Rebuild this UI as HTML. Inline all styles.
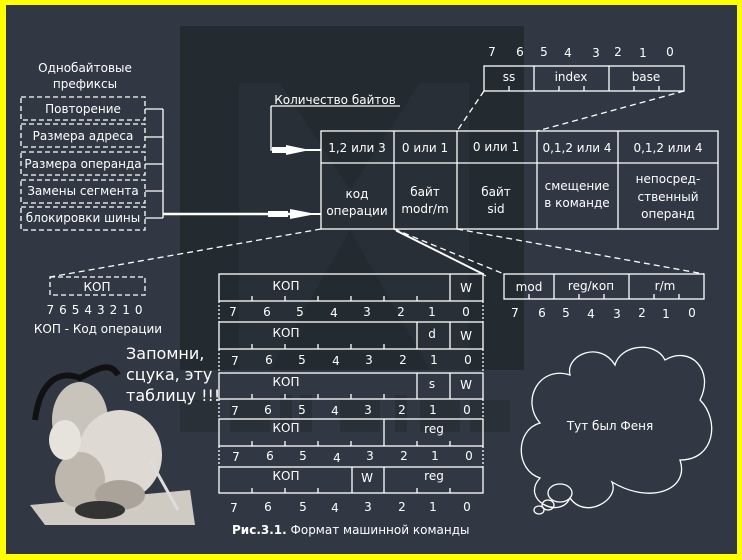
<!DOCTYPE html>
<html><head><meta charset="utf-8"><style>
html,body{margin:0;padding:0;background:#ffff00;}
svg{display:block;}
text{font-family:"DejaVu Sans","Liberation Sans",sans-serif;fill:#fff;}
</style></head><body>
<svg width="742" height="560" viewBox="0 0 742 560" xmlns="http://www.w3.org/2000/svg">
<rect x="0" y="0" width="742" height="560" fill="#ffff00"/>
<rect x="6" y="5" width="731" height="549" fill="#323843"/>
<!-- watermark -->
<rect x="180" y="26" width="344" height="344" fill="#232a30"/>
<polygon points="239,83 280,83 350,190 420,83 469,83 469,370 430,370 350,230 270,370 239,370" fill="#292f36"/>
<polygon points="275,370 350,240 425,370" fill="#232a30"/>
<g fill="#2a3038">
<rect x="180" y="400" width="40" height="32"/><rect x="230" y="400" width="40" height="32"/>
<rect x="280" y="395" width="12" height="37"/><rect x="300" y="395" width="12" height="37"/>
<rect x="340" y="400" width="40" height="32"/><rect x="395" y="395" width="12" height="37"/>
<rect x="420" y="400" width="40" height="32"/><rect x="470" y="400" width="40" height="32"/>
</g>
<g stroke="#fff" stroke-width="1.3" fill="none">
<g stroke-dasharray="5,3">
<rect x="21" y="97" width="124" height="23"/>
<rect x="21" y="124" width="124" height="23"/>
<rect x="21" y="152" width="124" height="23"/>
<rect x="21" y="180" width="124" height="23"/>
<rect x="21" y="207" width="124" height="23"/>
<rect x="50" y="277" width="95" height="18"/>
</g>
<path d="M145 109H163M145 137H163M145 164H163M145 191H163M145 218H163M163 109V218"/>
<path d="M163 214H290" stroke-width="2.5"/>
<path d="M271 106H400M271 106V150H290" />
<rect x="321" y="131" width="397" height="98"/>
<path d="M321 163H718M394 131V229M457 131V229M537 131V229M618 131V229"/>
<rect x="484" y="66" width="200" height="25"/>
<path d="M534 66V91M609 66V91M509 86V91M559 86V91M584 86V91M634 86V91M659 86V91"/>
<rect x="504" y="274" width="200" height="25"/>
<path d="M554 274V299M629 274V299M529 294V299M579 294V299M604 294V299M654 294V299M679 294V299"/>
<g stroke-dasharray="6,4">
<path d="M484 91L457 131M684 91L537 131M321 229L50 277M394 229L504 274M457 229L704 274"/>
</g>
<path d="M394 229L484 274M396 231L486 276" stroke-width="1"/>
<rect x="219" y="274" width="264" height="27"/>
<rect x="219" y="322" width="264" height="27"/>
<rect x="219" y="373" width="264" height="26"/>
<rect x="219" y="419" width="264" height="27"/>
<rect x="219" y="467" width="264" height="26"/>
<path d="M450 274V301M417 322V349M450 322V349M417 373V399M450 373V399M384 419V446M352 467V493M384 467V493"/>
<path d="M219 301V322M483 301V322M219 349V373M483 349V373M219 399V419M483 399V419M219 446V467M483 446V467" stroke-dasharray="2,2"/>
<path d="M252 296V301M285 296V301M318 296V301M351 296V301M384 296V301M417 296V301
M252 344V349M285 344V349M318 344V349M351 344V349M384 344V349
M252 394V399M285 394V399M318 394V399M351 394V399M384 394V399
M252 441V446M285 441V446M318 441V446M351 441V446M417 441V446M450 441V446
M252 488V493M285 488V493M318 488V493M417 488V493M450 488V493"/>
<path d="M540 423 C515 430 515 470 540 478 C520 500 560 520 570 498 C585 520 620 500 612 482 C650 505 690 490 680 460 C715 460 720 420 700 400 C715 370 690 345 665 360 C655 340 620 345 615 365 C600 340 565 355 570 375 C540 365 520 400 540 423Z"/>
<ellipse cx="560" cy="493" rx="12" ry="9"/>
<ellipse cx="548" cy="505" rx="6" ry="5"/>
<ellipse cx="539" cy="510" rx="5" ry="4"/>
</g>
<g fill="#fff">
<rect x="268" y="211" width="20" height="6"/><polygon points="290,209 316,214 290,219"/><rect x="306" y="213" width="15" height="2"/>
<rect x="272" y="147" width="20" height="6"/><polygon points="286,145 310,150 286,155"/><rect x="306" y="149" width="15" height="2"/>
</g>
<g font-size="12" text-anchor="middle">
<text x="85" y="72">Однобайтовые</text>
<text x="85" y="88">префиксы</text>
<text x="83" y="113">Повторение</text>
<text x="83" y="140">Размера адреса</text>
<text x="83" y="168">Размера операнда</text>
<text x="83" y="195">Замены сегмента</text>
<text x="83" y="222">блокировки шины</text>
<text x="97" y="291">КОП</text>
<text x="97" y="314" letter-spacing="5">76543210</text>
<text x="98" y="333">КОП - Код операции</text>
<text x="335" y="104">Количество байтов</text>
<text x="357" y="152">1,2 или 3</text>
<text x="425" y="152">0 или 1</text>
<text x="496" y="151">0 или 1</text>
<text x="577" y="152">0,1,2 или 4</text>
<text x="668" y="152">0,1,2 или 4</text>
<text x="357" y="198">код</text>
<text x="357" y="215">операции</text>
<text x="425" y="196">байт</text>
<text x="425" y="213">modr/m</text>
<text x="496" y="196">байт</text>
<text x="496" y="213">sid</text>
<text x="577" y="190">смещение</text>
<text x="577" y="207">в команде</text>
<text x="668" y="183">непосред-</text>
<text x="668" y="201">ственный</text>
<text x="668" y="218">операнд</text>
<text x="509" y="81">ss</text>
<text x="571" y="81">index</text>
<text x="646" y="81">base</text>
<text x="529" y="291">mod</text>
<text x="591" y="290">reg/коп</text>
<text x="665" y="290">r/m</text>
<text x="610" y="430">Тут был Феня</text>
</g>
<g font-size="12" text-anchor="middle">
<text x="492" y="56">7</text><text x="520" y="56">6</text><text x="544" y="56">5</text><text x="568" y="57">4</text><text x="596" y="57">3</text><text x="618" y="56">2</text><text x="643" y="57">1</text><text x="670" y="56">0</text>
<text x="515" y="317">7</text><text x="542" y="317">6</text><text x="566" y="317">5</text><text x="591" y="318">4</text><text x="617" y="318">3</text><text x="642" y="317">2</text><text x="666" y="318">1</text><text x="692" y="317">0</text>
<text x="286" y="290">КОП</text><text x="466" y="292">W</text>
<text x="286" y="337">КОП</text><text x="432" y="338">d</text><text x="466" y="340">W</text>
<text x="286" y="386">КОП</text><text x="432" y="388">s</text><text x="466" y="389">W</text>
<text x="286" y="432">КОП</text><text x="434" y="433">reg</text>
<text x="286" y="480">КОП</text><text x="367" y="482">W</text><text x="434" y="480">reg</text>
</g>
<g font-size="12" text-anchor="middle">
<text x="233" y="316">7</text><text x="267" y="316">6</text><text x="300" y="316">5</text><text x="334" y="317">4</text><text x="367" y="316">3</text><text x="401" y="316">2</text><text x="432" y="316">1</text><text x="466" y="316">0</text>
<text x="235" y="365">7</text><text x="269" y="364">6</text><text x="302" y="364">5</text><text x="336" y="365">4</text><text x="369" y="364">3</text><text x="403" y="364">2</text><text x="434" y="364">1</text><text x="468" y="364">0</text>
<text x="235" y="415">7</text><text x="268" y="414">6</text><text x="302" y="414">5</text><text x="335" y="415">4</text><text x="368" y="414">3</text><text x="402" y="414">2</text><text x="433" y="414">1</text><text x="467" y="414">0</text>
<text x="236" y="461">7</text><text x="270" y="460">6</text><text x="303" y="460">5</text><text x="337" y="462">4</text><text x="370" y="460">3</text><text x="404" y="460">2</text><text x="435" y="460">1</text><text x="469" y="460">0</text>
<text x="234" y="512">7</text><text x="268" y="511">6</text><text x="303" y="511">5</text><text x="335" y="512">4</text><text x="368" y="511">3</text><text x="402" y="511">2</text><text x="433" y="511">1</text><text x="467" y="511">0</text>
</g>
<text x="232" y="534" font-size="12"><tspan font-weight="bold">Рис.3.1.</tspan> Формат машинной команды</text>
<g font-size="16">
<text x="126" y="359">Запомни,</text>
<text x="126" y="380">сцука, эту</text>
<text x="126" y="401">таблицу !!!</text>
</g>
<polygon points="30,505 190,490 195,525 45,525" fill="#cfcac2"/>
<path d="M35 420 C40 380 60 370 80 378 C95 370 110 360 118 375" stroke="#111" stroke-width="6" fill="none"/>
<ellipse cx="80" cy="420" rx="28" ry="38" fill="#c9c4bb"/>
<ellipse cx="120" cy="455" rx="42" ry="45" fill="#dedad3"/>
<ellipse cx="80" cy="480" rx="25" ry="28" fill="#bdb7ad"/>
<ellipse cx="120" cy="495" rx="25" ry="15" fill="#a9a39a"/>
<ellipse cx="65" cy="440" rx="16" ry="20" fill="#e6e2dc"/>
<ellipse cx="100" cy="510" rx="25" ry="9" fill="#333"/>
<path d="M150 460 L178 510" stroke="#ddd" stroke-width="3"/>
</svg>
</body></html>
